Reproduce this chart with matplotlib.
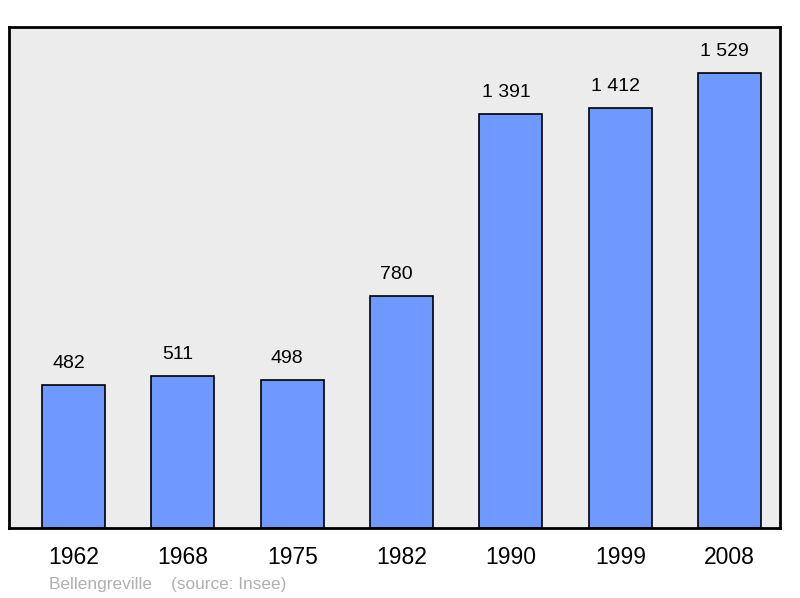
import matplotlib
matplotlib.use("Agg")
import matplotlib.pyplot as plt

plt.rcParams['font.family'] = ['Liberation Sans', 'DejaVu Sans']

years = ['1962', '1968', '1975', '1982', '1990', '1999', '2008']
population = [482, 511, 498, 780, 1391, 1412, 1529]
labels = ['482', '511', '498', '780', '1 391', '1 412', '1 529']

fig = plt.figure(figsize=(8, 5.98), dpi=100)
ax = fig.add_axes([9 / 800, 1 - 528 / 598, 771 / 800, 501 / 598])
ax.set_facecolor('#ececec')

x = range(len(years))
ax.bar(x, population, width=0.576, color='#7099ff', edgecolor='black', linewidth=1.2, zorder=2)
for xi, v, lab in zip(x, population, labels):
    ax.annotate(lab, (xi, v), xytext=(-5, 21), textcoords='offset pixels',
                ha='center', va='center', fontsize=14)

ax.set_xlim(-0.59, 6.46)
ax.set_ylim(0, 1683)
ax.set_yticks([])
ax.set_xticks(list(x))
ax.set_xticklabels(years, fontsize=16.5)
ax.tick_params(axis='x', length=0, pad=13)
for s in ax.spines.values():
    s.set_linewidth(2)

fig.text(49 / 800, 1 - 584 / 598, 'Bellengreville    (source: Insee)', color='#b0b0b0',
         fontsize=12.4, va='center', ha='left')

fig.savefig('out.png', dpi=100)
